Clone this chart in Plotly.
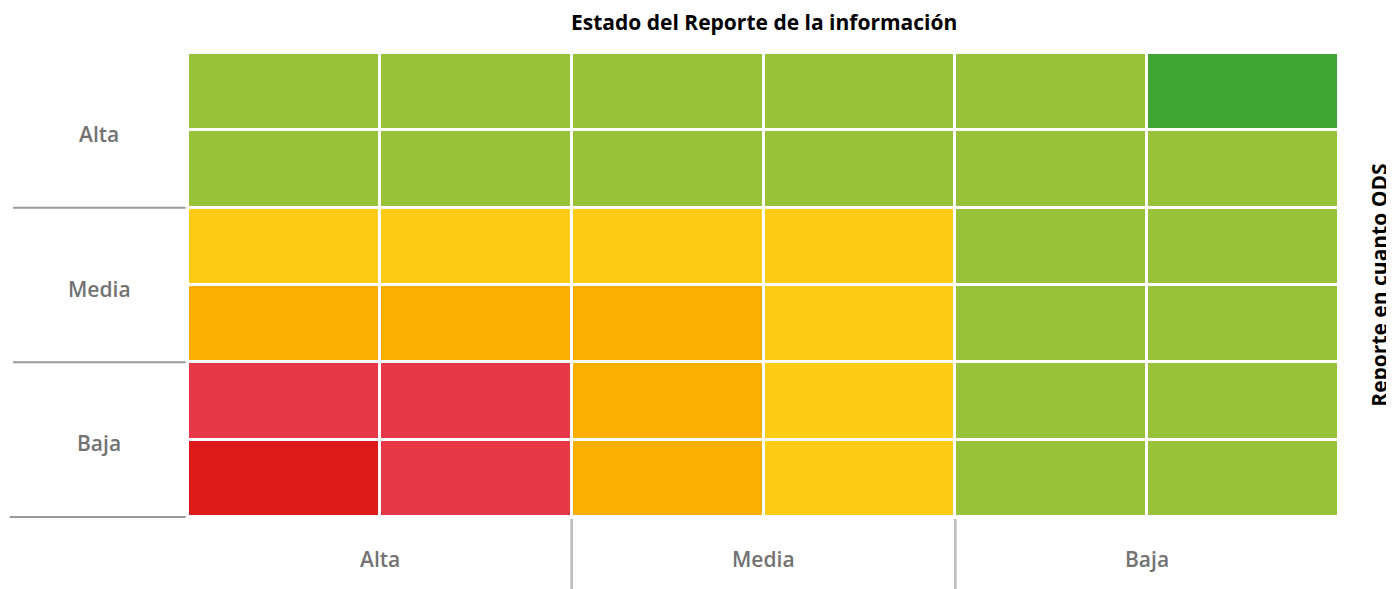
import plotly.graph_objects as go

# Data
title = "Estado del Reporte de la información"
right_label = "Reporte en cuanto ODS"
group_labels_x = ["Alta", "Media", "Baja"]
group_labels_y = ["Alta", "Media", "Baja"]
status_names = ["Rojo", "Rosa", "Naranja", "Amarillo", "Verde claro", "Verde oscuro"]
status_colors = ["#DC1A1A", "#E73848", "#F9B002", "#FECB17", "#97C23A", "#41A535"]
# rows from top to bottom, columns from left to right (status index)
row1 = [4, 4, 4, 4, 4, 5]
row2 = [4, 4, 4, 4, 4, 4]
row3 = [3, 3, 3, 3, 4, 4]
row4 = [2, 2, 2, 3, 4, 4]
row5 = [1, 1, 2, 3, 4, 4]
row6 = [0, 1, 2, 3, 4, 4]
grid = [row1, row2, row3, row4, row5, row6]

n = len(status_colors)
colorscale = []
for i, c in enumerate(status_colors):
    colorscale.append([i / n, c])
    colorscale.append([(i + 1) / n, c])

ncols = len(row1)
nrows = len(grid)
text = [[status_names[v] for v in r] for r in grid]

fig = go.Figure(go.Heatmap(
    z=grid, x=list(range(ncols)), y=list(range(nrows)),
    zmin=-0.5, zmax=n - 0.5, colorscale=colorscale, showscale=False,
    xgap=3, ygap=3, text=text, hovertemplate="%{text}<extra></extra>",
))

label_font = dict(family="Open Sans", size=21, color="#737373", weight=600)

annotations = []
shapes = []
for i, lab in enumerate(group_labels_y):
    yc = 1 - (i + 0.5) / 3 - 0.008
    annotations.append(dict(text=lab, x=-0.0773, y=yc, xref="paper", yref="paper",
                            showarrow=False, font=label_font, xanchor="center", yanchor="middle"))
    yb = 1 - (i + 1) / 3
    shapes.append(dict(type="line", xref="paper", yref="paper", x0=-0.152 if i < 2 else -0.155,
                       x1=-0.002, y0=yb, y1=yb, line=dict(color="#9A9A9A", width=2)))
for i, lab in enumerate(group_labels_x):
    xc = (i + 0.5) / 3
    annotations.append(dict(text=lab, x=xc, y=-0.0905, xref="paper", yref="paper",
                            showarrow=False, font=label_font, xanchor="center", yanchor="middle"))
    if i > 0:
        xb = i / 3
        shapes.append(dict(type="line", xref="paper", yref="paper", x0=xb, x1=xb,
                           y0=-0.004, y1=-0.16, line=dict(color="#BBBBBB", width=2.5)))

annotations.append(dict(text=title, x=0.5, y=1.0668, xref="paper", yref="paper",
                        showarrow=False, font=dict(family="Open Sans", size=21, color="#000000", weight=700),
                        xanchor="center", yanchor="middle"))
annotations.append(dict(text=right_label, x=1.0345, y=0.5, xref="paper", yref="paper",
                        showarrow=False, textangle=-90,
                        font=dict(family="Open Sans", size=21, color="#000000", weight=700),
                        xanchor="center", yanchor="middle"))

fig.update_layout(
    width=1386, height=581,
    margin=dict(l=180, r=55, t=45, b=72),
    paper_bgcolor="white", plot_bgcolor="white",
    xaxis=dict(visible=False, range=[-0.5, ncols - 0.5], fixedrange=True),
    yaxis=dict(visible=False, range=[nrows - 0.5, -0.5], fixedrange=True),
    annotations=annotations, shapes=shapes,
)

fig.write_html("out.html")
